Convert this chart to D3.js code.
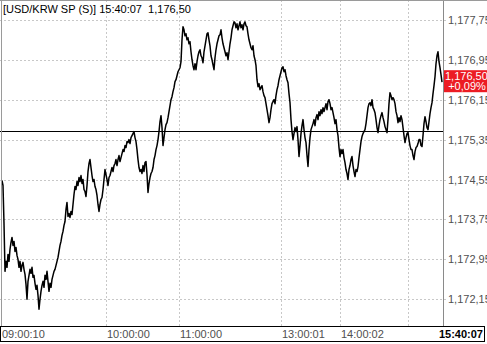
<!DOCTYPE html>
<html>
<head>
<meta charset="utf-8">
<script src="https://cdn.jsdelivr.net/npm/d3@7"></script>
<style>
    body { margin: 0; background: #fff; }
    svg { display: block; font-family: "Liberation Sans", Arial, sans-serif; }
</style>
</head>
<body>
<div id="chart"></div>
<script>
/*************************************************
    Data:
 *************************************************/
var symbol = "[USD/KRW SP (S)]";
var lastTime = "15:40:07";
var lastChange = "+0,09%";
var prevClose = 1175.52;

// one value per tick, 09:00:10 .. 15:40:07
var prices = [
    1174.53, 1174.43, 1173.67, 1172.71, 1172.91, 1172.79, 1173.05, 1172.91, 1173.15, 1173.29,
    1173.39, 1173.23, 1173.31, 1173.11, 1173.19, 1173.03, 1172.95, 1172.79, 1172.91, 1172.71,
    1172.83, 1172.89, 1172.75, 1172.65, 1172.45, 1172.15, 1172.51, 1172.63, 1172.75, 1172.67,
    1172.79, 1172.59, 1172.63, 1172.47, 1172.35, 1172.43, 1172.23, 1171.95, 1172.15, 1172.31,
    1172.43, 1172.51, 1172.39, 1172.63, 1172.55, 1172.71, 1172.51, 1172.31, 1172.47, 1172.39,
    1172.55, 1172.63, 1172.71, 1172.75, 1172.83, 1172.91, 1172.99, 1173.11, 1173.23, 1173.31,
    1173.43, 1173.51, 1173.63, 1173.71, 1173.95, 1174.09, 1173.81, 1173.87, 1173.79, 1173.91,
    1173.85, 1174.05, 1174.25, 1174.41, 1174.35, 1174.51, 1174.43, 1174.59, 1174.51, 1174.63,
    1174.47, 1174.55, 1174.35, 1174.31, 1174.21, 1174.43, 1174.71, 1174.87, 1174.95, 1174.79,
    1174.63, 1174.51, 1174.55, 1174.41, 1174.35, 1174.23, 1174.05, 1173.91, 1174.05, 1174.15,
    1174.19, 1174.35, 1174.55, 1174.75, 1174.65, 1174.55, 1174.43, 1174.59, 1174.63, 1174.71,
    1174.79, 1174.71, 1174.83, 1174.87, 1174.95, 1174.83, 1174.95, 1175.03, 1174.91, 1174.99,
    1175.07, 1175.15, 1175.11, 1175.23, 1175.19, 1175.31, 1175.29, 1175.35, 1175.27, 1175.39,
    1175.43, 1175.47, 1175.51, 1175.39, 1175.31, 1175.15, 1174.95, 1174.79, 1174.71, 1174.75,
    1174.67, 1174.83, 1174.71, 1174.89, 1174.91, 1174.65, 1174.29, 1174.47, 1174.59, 1174.67,
    1174.71, 1174.79, 1174.95, 1175.03, 1175.15, 1175.23, 1175.35, 1175.51, 1175.71, 1175.83,
    1175.59, 1175.23, 1175.39, 1175.55, 1175.65, 1175.69, 1175.79, 1175.91, 1176.03, 1176.15,
    1176.21, 1176.31, 1176.39, 1176.51, 1176.55, 1176.63, 1176.71, 1176.75, 1176.79, 1176.91,
    1177.35, 1177.61, 1177.55, 1177.43, 1177.47, 1177.35, 1177.39, 1177.27, 1177.31, 1177.11,
    1176.95, 1176.83, 1176.75, 1176.87, 1176.75, 1176.91, 1177.03, 1177.11, 1177.15, 1177.03,
    1176.99, 1176.89, 1177.11, 1177.23, 1177.35, 1177.47, 1177.49, 1177.35, 1177.23, 1177.03,
    1176.95, 1176.85, 1176.75, 1176.99, 1177.15, 1177.27, 1177.35, 1177.43, 1177.45, 1177.55,
    1177.39, 1177.27, 1177.19, 1177.11, 1177.03, 1177.09, 1176.95, 1177.11, 1177.27, 1177.39,
    1177.55, 1177.63, 1177.71, 1177.69, 1177.59, 1177.67, 1177.55, 1177.63, 1177.71, 1177.59,
    1177.65, 1177.55, 1177.67, 1177.71, 1177.63, 1177.61, 1177.47, 1177.35, 1177.27, 1177.19,
    1177.15, 1177.23, 1177.03, 1176.95, 1176.83, 1176.55, 1176.41, 1176.47, 1176.35, 1176.39,
    1176.43, 1176.31, 1176.23, 1176.19, 1176.07, 1175.95, 1175.83, 1175.69, 1175.79, 1175.95,
    1176.07, 1176.11, 1176.15, 1176.07, 1176.23, 1176.35, 1176.43, 1176.55, 1176.63, 1176.71,
    1176.79, 1176.81, 1176.71, 1176.75, 1176.63, 1176.55, 1176.49, 1176.27, 1176.09, 1175.75,
    1175.51, 1175.35, 1175.47, 1175.59, 1175.51, 1175.61, 1175.35, 1175.01, 1175.23, 1175.47,
    1175.63, 1175.75, 1175.55, 1175.39, 1175.29, 1175.03, 1174.81, 1175.15, 1175.39, 1175.55,
    1175.61, 1175.67, 1175.75, 1175.63, 1175.79, 1175.85, 1175.75, 1175.91, 1175.83, 1175.95,
    1175.87, 1175.99, 1175.91, 1175.99, 1176.07, 1175.95, 1176.11, 1176.15, 1176.07, 1175.95,
    1175.99, 1175.89, 1175.79, 1175.67, 1175.75, 1175.55, 1175.43, 1175.19, 1175.01, 1175.15,
    1175.07, 1175.15, 1174.99, 1174.89, 1174.75, 1174.67, 1174.55, 1174.75, 1174.83, 1174.95,
    1175.01, 1174.83, 1174.71, 1174.61, 1174.75, 1174.71, 1174.81, 1174.99, 1175.15, 1175.31,
    1175.41, 1175.47, 1175.51, 1175.55, 1175.67, 1175.83, 1175.99, 1176.07, 1176.09, 1176.03,
    1176.15, 1175.99, 1175.95, 1175.89, 1175.75, 1175.59, 1175.49, 1175.63, 1175.75, 1175.83,
    1175.89, 1175.79, 1175.71, 1175.61, 1175.55, 1175.49, 1175.75, 1176.07, 1176.29, 1176.23,
    1176.15, 1176.19, 1176.15, 1176.07, 1175.91, 1175.83, 1175.69, 1175.79, 1175.71, 1175.83,
    1175.75, 1175.59, 1175.43, 1175.29, 1175.39, 1175.47, 1175.49, 1175.35, 1175.23, 1175.15,
    1175.15, 1175.03, 1174.95, 1175.11, 1175.19, 1175.21, 1175.27, 1175.35, 1175.35, 1175.23,
    1175.21, 1175.43, 1175.67, 1175.81, 1175.71, 1175.59, 1175.55, 1175.71, 1175.87, 1175.99,
    1176.09, 1176.27, 1176.43, 1176.61, 1176.87, 1177.03, 1177.11, 1176.91, 1176.79, 1176.65,
    1176.50
];

// time grid: tick number where each hour mark falls, and its label
var timeTickIndex = [0, 104, 177, 279, 338, 406];
var timeTickLabels = ["09:00:10", "10:00:00", "11:00:00", "13:00:01", "14:00:02", ""];

var priceTicks = [1177.75, 1176.95, 1176.15, 1175.35, 1174.55, 1173.75, 1172.95, 1172.15];

/*************************************************
    Layout:
 *************************************************/
var width = 487,
    height = 344,
    plotRight = 443,
    plotBottom = 326;

var fmt = d3.format(",.2f");
function krFormat(v) {
    return fmt(v).replace(".", ",");
}

var x = d3.scaleLinear()
    .domain([0, prices.length - 1])
    .range([2, 442]);

var y = d3.scaleLinear()
    .domain([1171.615, 1178.127])
    .range([plotBottom, 1]);

var svg = d3.select("#chart").append("svg")
    .attr("width", width)
    .attr("height", height);

svg.append("rect")
    .attr("width", width)
    .attr("height", height)
    .attr("fill", "#fff");

// horizontal grid + right axis ticks
svg.append("g").selectAll("line")
    .data(priceTicks)
    .enter().append("line")
    .attr("x1", 0)
    .attr("x2", plotRight + 4)
    .attr("y1", function(d) { return Math.round(y(d)) + 0.5; })
    .attr("y2", function(d) { return Math.round(y(d)) + 0.5; })
    .attr("stroke", "#c8c8c8")
    .attr("stroke-dasharray", "2,2");

// vertical grid
svg.append("g").selectAll("line")
    .data(timeTickIndex.slice(1))
    .enter().append("line")
    .attr("x1", function(d) { return Math.round(x(d)) + 0.5; })
    .attr("x2", function(d) { return Math.round(x(d)) + 0.5; })
    .attr("y1", 0)
    .attr("y2", plotBottom)
    .attr("stroke", "#c8c8c8")
    .attr("stroke-dasharray", "2,2");

// previous close
svg.append("line")
    .attr("x1", 0)
    .attr("x2", plotRight)
    .attr("y1", Math.round(y(prevClose)) + 0.5)
    .attr("y2", Math.round(y(prevClose)) + 0.5)
    .attr("stroke", "#000");

// price line
var line = d3.line()
    .x(function(d, i) { return x(i); })
    .y(function(d) { return y(d); });

svg.append("path")
    .datum(prices)
    .attr("d", line)
    .attr("fill", "none")
    .attr("stroke", "#000")
    .attr("stroke-width", 1.5)
    .attr("stroke-linejoin", "round");

// frame
svg.append("line")
    .attr("x1", plotRight + 0.5).attr("x2", plotRight + 0.5)
    .attr("y1", 0).attr("y2", plotBottom)
    .attr("stroke", "#8a8a8a");
svg.append("line")
    .attr("x1", 0).attr("x2", width)
    .attr("y1", 0.5).attr("y2", 0.5)
    .attr("stroke", "#9a9a9a");
svg.append("line")
    .attr("x1", 1.5).attr("x2", 1.5)
    .attr("y1", 0).attr("y2", plotBottom)
    .attr("stroke", "#9a9a9a");

// right axis labels (clipped at the window edge as in the source)
svg.append("g").selectAll("text")
    .data(priceTicks)
    .enter().append("text")
    .attr("x", plotRight + 5)
    .attr("y", function(d) { return y(d) + 4; })
    .attr("font-size", 11)
    .attr("fill", "#505050")
    .text(krFormat);

// last price box
var last = prices[prices.length - 1];
var boxY = y(last) - 12;
svg.append("rect")
    .attr("x", plotRight + 1)
    .attr("y", boxY)
    .attr("width", width - plotRight - 1)
    .attr("height", 22)
    .attr("fill", "#ec1c24");
svg.append("text")
    .attr("x", plotRight + 2)
    .attr("y", boxY + 9.5)
    .attr("font-size", 11)
    .attr("fill", "#fff")
    .text(krFormat(last));
svg.append("text")
    .attr("x", plotRight + 24)
    .attr("y", boxY + 20)
    .attr("text-anchor", "middle")
    .attr("font-size", 11)
    .attr("fill", "#fff")
    .text(lastChange);

// header
svg.append("text")
    .attr("x", 3)
    .attr("y", 13)
    .attr("font-size", 11)
    .attr("fill", "#000")
    .style("white-space", "pre")
    .text(symbol + " " + lastTime + "  " + krFormat(last));

// time axis strip
svg.append("rect")
    .attr("x", 0.5)
    .attr("y", plotBottom + 0.5)
    .attr("width", 484)
    .attr("height", 15)
    .attr("fill", "#fff")
    .attr("stroke", "#000");

svg.append("g").selectAll("text")
    .data(timeTickIndex)
    .enter().append("text")
    .attr("x", function(d, i) { return i === 0 ? 2 : x(d) + 1; })
    .attr("y", 338)
    .attr("font-size", 11)
    .attr("fill", "#505050")
    .text(function(d, i) { return timeTickLabels[i]; });

svg.append("text")
    .attr("x", 483)
    .attr("y", 338)
    .attr("text-anchor", "end")
    .attr("font-size", 11)
    .attr("font-weight", "bold")
    .attr("fill", "#000")
    .text(lastTime);
</script>
</body>
</html>
